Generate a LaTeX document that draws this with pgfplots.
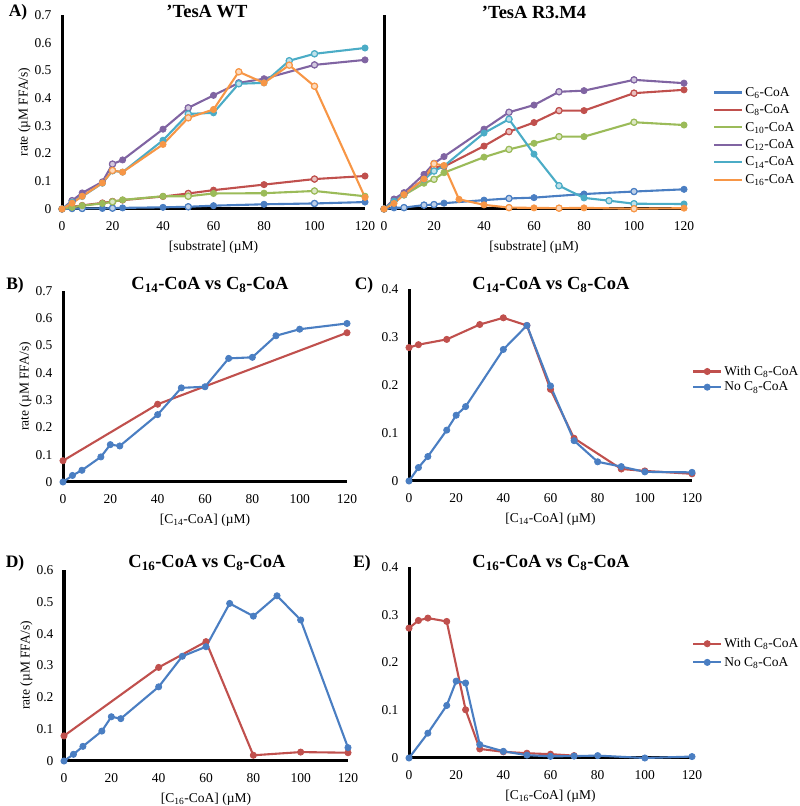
\documentclass[border=0pt]{standalone}
\usepackage{fontspec}
\setmainfont{Liberation Serif}
\usepackage{pgfplots}
\pgfplotsset{compat=1.18}
\definecolor{cB}{HTML}{4A7EC2}
\definecolor{cR}{HTML}{C0504D}
\definecolor{cG}{HTML}{9BBB59}
\definecolor{cP}{HTML}{8064A2}
\definecolor{cC}{HTML}{4BACC6}
\definecolor{cO}{HTML}{F79646}
\newcommand{\fs}{\fontsize{13.5}{16}\selectfont}
\newcommand{\ft}{\fontsize{18.5}{22}\selectfont\bfseries}
\pgfplotsset{
  panel/.style={
    scale only axis, xmin=0, xmax=120, ymin=0,
    axis x line=bottom, axis y line=left,
    axis line style={-, line width=3pt, black},
    major tick length=0pt,
    xtick={0,20,40,60,80,100,120},
    tick label style={font=\fs},
    /pgf/number format/assume math mode=true,
    xticklabel style={yshift=-9pt},
    yticklabel style={xshift=-7pt, /pgf/number format/fixed, /pgf/number format/precision=1},
    label style={font=\fs},
    xlabel style={at={([yshift=-38pt]axis description cs:0.5,0)}, anchor=center},
    ylabel style={at={([xshift=-28pt]axis description cs:0,0.5)}, anchor=south},
    clip=false,
  },
  opn/.style={#1, only marks, forget plot, mark=*, mark size=3.1pt, mark options={solid, fill=white, fill opacity=0.65, draw=#1, line width=1.2pt}},
  ln/.style={#1, line width=2.1pt, mark=*, mark size=3.1pt, mark options={solid, fill=#1, line width=0.8pt}},
}
\begin{document}
\begin{tikzpicture}
\path[use as bounding box] (0pt,0pt) rectangle (800pt,806pt);
% ---------- A left
\begin{axis}[panel, at={(62pt,597pt)}, anchor=south west, width=303pt, height=194pt,
  ymax=0.7, ytick={0,0.1,0.2,0.3,0.4,0.5,0.6,0.7},
  xlabel={[substrate] (µM)}, ylabel={rate (µM FFA/s)}]
\addplot[ln=cB] coordinates {(0,0) (4,0.001) (8,0.002) (16,0.002) (20,0.003) (24,0.004) (40,0.006) (50,0.008) (60,0.012) (80,0.017) (100,0.020) (120,0.025)};
\addplot[opn=cB] coordinates {(8,0.002) (20,0.003) (50,0.008) (100,0.020)};
\addplot[ln=cR] coordinates {(0,0) (4,0.008) (8,0.013) (16,0.022) (20,0.027) (24,0.032) (40,0.045) (50,0.056) (60,0.068) (80,0.088) (100,0.108) (120,0.119)};
\addplot[opn=cR] coordinates {(20,0.027) (50,0.056) (100,0.108)};
\addplot[ln=cG] coordinates {(0,0) (4,0.006) (8,0.012) (16,0.020) (20,0.026) (24,0.033) (40,0.046) (50,0.046) (60,0.056) (80,0.057) (100,0.065) (120,0.046)};
\addplot[opn=cG] coordinates {(20,0.026) (50,0.046) (100,0.065)};
\addplot[ln=cP] coordinates {(0,0) (4,0.030) (8,0.058) (16,0.098) (20,0.162) (24,0.177) (40,0.288) (50,0.365) (60,0.410) (70,0.455) (80,0.470) (100,0.520) (120,0.538)};
\addplot[opn=cP] coordinates {(4,0.030) (20,0.162) (50,0.365) (70,0.455) (100,0.520)};
\addplot[ln=cC] coordinates {(0,0) (4,0.025) (8,0.045) (16,0.093) (20,0.138) (24,0.133) (40,0.248) (50,0.343) (60,0.347) (70,0.452) (80,0.455) (90,0.535) (100,0.560) (120,0.581)};
\addplot[opn=cC] coordinates {(20,0.138) (50,0.343) (70,0.452) (90,0.535) (100,0.560)};
\addplot[ln=cO] coordinates {(0,0) (4,0.021) (8,0.046) (16,0.094) (20,0.139) (24,0.133) (40,0.233) (50,0.329) (60,0.359) (70,0.495) (80,0.455) (90,0.519) (100,0.443) (120,0.042)};
\addplot[opn=cO] coordinates {(20,0.139) (50,0.329) (70,0.495) (90,0.519) (100,0.443)};
\end{axis}
% ---------- A right
\begin{axis}[panel, at={(384pt,597pt)}, anchor=south west, width=300pt, height=194pt,
  ymax=0.7, ytick={0,0.1,0.2,0.3,0.4,0.5,0.6,0.7}, yticklabels={},
  xlabel={[substrate] (µM)},
  legend style={draw=none, fill=none, at={(axis description cs:1.097,0.376)}, anchor=west,
    font=\fs, row sep=3pt, inner sep=0pt},
  legend cell align=left,
  legend image code/.code={\draw[#1, mark=none] (0pt,0pt) -- (28pt,0pt);}]
\addplot[ln=cB] coordinates {(0,0) (4,0.004) (8,0.005) (16,0.014) (20,0.016) (24,0.021) (40,0.032) (50,0.038) (60,0.041) (80,0.054) (100,0.063) (120,0.071)};
\addlegendentry{C\textsubscript{6}-CoA}
\addplot[opn=cB] coordinates {(8,0.005) (16,0.014) (20,0.016) (50,0.038) (100,0.063)};
\addplot[ln=cR] coordinates {(0,0) (4,0.030) (8,0.055) (16,0.107) (20,0.150) (24,0.153) (40,0.227) (50,0.279) (60,0.312) (70,0.355) (80,0.355) (100,0.418) (120,0.430)};
\addlegendentry{C\textsubscript{8}-CoA}
\addplot[opn=cR] coordinates {(20,0.150) (50,0.279) (70,0.355) (100,0.418)};
\addplot[ln=cG] coordinates {(0,0) (4,0.028) (8,0.050) (16,0.093) (20,0.107) (24,0.131) (40,0.187) (50,0.215) (60,0.237) (70,0.261) (80,0.261) (100,0.313) (120,0.303)};
\addlegendentry{C\textsubscript{10}-CoA}
\addplot[opn=cG] coordinates {(20,0.107) (50,0.215) (70,0.261) (100,0.313)};
\addplot[ln=cP] coordinates {(0,0) (4,0.036) (8,0.059) (16,0.125) (20,0.165) (24,0.189) (40,0.288) (50,0.349) (60,0.375) (70,0.423) (80,0.427) (100,0.466) (120,0.454)};
\addlegendentry{C\textsubscript{12}-CoA}
\addplot[opn=cP] coordinates {(50,0.349) (70,0.423) (100,0.466)};
\addplot[ln=cC] coordinates {(0,0) (4,0.028) (8,0.051) (16,0.106) (20,0.137) (24,0.155) (40,0.274) (50,0.324) (60,0.198) (70,0.084) (80,0.040) (90,0.030) (100,0.019) (120,0.018)};
\addlegendentry{C\textsubscript{14}-CoA}
\addplot[opn=cC] coordinates {(20,0.137) (50,0.324) (70,0.084) (90,0.030) (100,0.019)};
\addplot[ln=cO] coordinates {(0,0) (4,0.020) (8,0.052) (16,0.108) (20,0.163) (24,0.157) (30,0.035) (40,0.015) (50,0.005) (60,0.004) (70,0.003) (80,0.004) (100,0.001) (120,0.003)};
\addlegendentry{C\textsubscript{16}-CoA}
\addplot[opn=cO] coordinates {(20,0.163) (50,0.005) (70,0.003) (100,0.001)};
\end{axis}
% ---------- B
\begin{axis}[panel, at={(63pt,324pt)}, anchor=south west, width=284pt, height=191pt,
  ymax=0.7, ytick={0,0.1,0.2,0.3,0.4,0.5,0.6,0.7},
  xlabel={[C\textsubscript{14}-CoA] (µM)}, ylabel={rate (µM FFA/s)}]
\addplot[ln=cR] coordinates {(0,0.078) (40,0.285) (120,0.547)};
\addplot[ln=cB] coordinates {(0,0) (4,0.024) (8,0.043) (16,0.092) (20,0.137) (24,0.132) (40,0.247) (50,0.345) (60,0.349) (70,0.453) (80,0.457) (90,0.536) (100,0.560) (120,0.581)};
\end{axis}
% ---------- C
\begin{axis}[panel, at={(409pt,325pt)}, anchor=south west, width=283pt, height=192pt,
  ymax=0.4, ytick={0,0.1,0.2,0.3,0.4},
  xlabel={[C\textsubscript{14}-CoA] (µM)},
  legend style={draw=none, fill=none, at={(axis description cs:1.0,0.53)}, anchor=west,
    font=\fs, row sep=1pt, inner sep=0pt},
  legend cell align=left,
  legend image code/.code={\draw[mark repeat=2,mark phase=2,#1] plot coordinates {(0pt,0pt) (14pt,0pt) (28pt,0pt)};}]
\addplot[ln=cR] coordinates {(0,0.278) (4,0.284) (16,0.295) (30,0.326) (40,0.340) (50,0.324) (60,0.191) (70,0.089) (90,0.025) (100,0.021) (120,0.015)};
\addlegendentry{With C\textsubscript{8}-CoA}
\addplot[ln=cB] coordinates {(0,0) (4,0.028) (8,0.051) (16,0.106) (20,0.137) (24,0.155) (40,0.274) (50,0.324) (60,0.198) (70,0.084) (80,0.040) (90,0.030) (100,0.019) (120,0.018)};
\addlegendentry{No C\textsubscript{8}-CoA}
\end{axis}
% ---------- D
\begin{axis}[panel, at={(64pt,45pt)}, anchor=south west, width=284pt, height=191pt,
  ymax=0.6, ytick={0,0.1,0.2,0.3,0.4,0.5,0.6},
  xlabel={[C\textsubscript{16}-CoA] (µM)}, ylabel={rate (µM FFA/s)}]
\addplot[ln=cR] coordinates {(0,0.079) (40,0.294) (60,0.375) (80,0.018) (100,0.028) (120,0.026)};
\addplot[ln=cB] coordinates {(0,0) (4,0.021) (8,0.046) (16,0.094) (20,0.139) (24,0.133) (40,0.233) (50,0.329) (60,0.359) (70,0.495) (80,0.455) (90,0.519) (100,0.443) (120,0.042)};
\end{axis}
% ---------- E
\begin{axis}[panel, at={(409pt,48pt)}, anchor=south west, width=283pt, height=191pt,
  ymax=0.4, ytick={0,0.1,0.2,0.3,0.4},
  xlabel={[C\textsubscript{16}-CoA] (µM)},
  legend style={draw=none, fill=none, at={(axis description cs:1.0,0.55)}, anchor=west,
    font=\fs, row sep=4pt, inner sep=0pt},
  legend cell align=left,
  legend image code/.code={\draw[mark repeat=2,mark phase=2,#1] plot coordinates {(0pt,0pt) (14pt,0pt) (28pt,0pt)};}]
\addplot[ln=cR] coordinates {(0,0.272) (4,0.288) (8,0.293) (16,0.286) (24,0.101) (30,0.019) (40,0.013) (50,0.010) (60,0.008) (70,0.005)};
\addlegendentry{With C\textsubscript{8}-CoA}
\addplot[ln=cB] coordinates {(0,0) (8,0.052) (16,0.110) (20,0.161) (24,0.157) (30,0.028) (40,0.014) (50,0.006) (60,0.0035) (70,0.004) (80,0.005) (100,0) (120,0.003)};
\addlegendentry{No C\textsubscript{8}-CoA}
\end{axis}
% ---------- titles and panel letters
\node[font=\fontsize{17.5}{20}\selectfont\bfseries] at (18pt,794pt) {A)};
\node[font=\fontsize{17.5}{20}\selectfont\bfseries] at (15pt,521pt) {B)};
\node[font=\fontsize{17.5}{20}\selectfont\bfseries] at (364pt,521pt) {C)};
\node[font=\fontsize{17.5}{20}\selectfont\bfseries] at (15pt,243pt) {D)};
\node[font=\fontsize{17.5}{20}\selectfont\bfseries] at (362pt,243pt) {E)};
\node[font=\ft] at (207pt,795pt) {'TesA WT};
\node[font=\ft] at (534pt,794pt) {'TesA R3.M4};
\node[font=\ft] at (210pt,521pt) {C\textsubscript{14}-CoA vs C\textsubscript{8}-CoA};
\node[font=\ft] at (551pt,521pt) {C\textsubscript{14}-CoA vs C\textsubscript{8}-CoA};
\node[font=\ft] at (207pt,243pt) {C\textsubscript{16}-CoA vs C\textsubscript{8}-CoA};
\node[font=\ft] at (551pt,243pt) {C\textsubscript{16}-CoA vs C\textsubscript{8}-CoA};
\end{tikzpicture}
\end{document}
